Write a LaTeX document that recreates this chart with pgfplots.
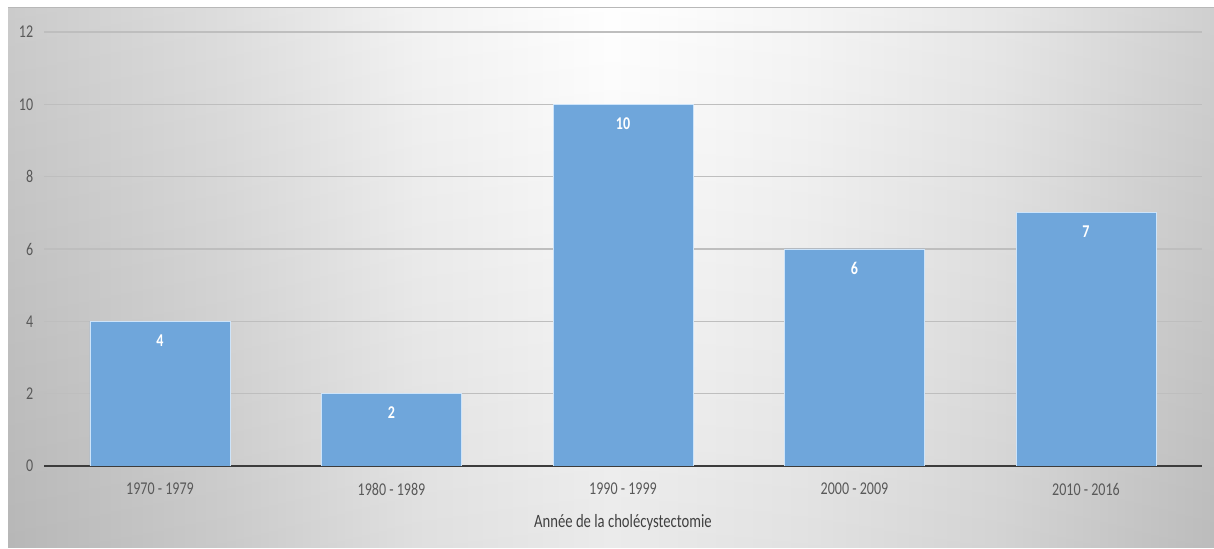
\documentclass[border=0pt]{standalone}
\usepackage{fontspec}
\setmainfont{Carlito}[FakeStretch=0.78]
\usepackage{pgfplots}
\pgfplotsset{compat=1.18}
\definecolor{barblue}{RGB}{111,166,219}
\definecolor{baredge}{RGB}{205,228,250}
\definecolor{ticktext}{RGB}{89,89,89}
\definecolor{titletext}{RGB}{64,64,64}
\definecolor{gridgray}{RGB}{190,190,190}
\pgfdeclarehorizontalshading{panelbg}{100bp}{%
  color(0bp)=(black!22); color(25bp)=(black!22); color(34bp)=(black!14);
  color(42bp)=(black!5); color(50bp)=(white); color(58bp)=(black!4);
  color(66bp)=(black!10); color(75bp)=(black!20); color(100bp)=(black!20)}
\begin{document}
\begin{tikzpicture}
\useasboundingbox (0,0) rectangle (607pt,274.5pt);
\shade[shading=panelbg] (4pt,0.5pt) rectangle (607pt,270.5pt);
\shade[top color=white, bottom color=black, opacity=0.08] (4pt,0.5pt) rectangle (607pt,270.5pt);
\draw[black!28, line width=0.5pt] (4pt,270.5pt) -- (607pt,270.5pt);
\begin{axis}[
    at={(22.125pt,41.5pt)}, anchor=south west,
    scale only axis,
    width=578.75pt, height=217pt,
    xmin=-0.5, xmax=4.5,
    ymin=0, ymax=12,
    ytick={0,2,...,12},
    xtick={0,1,2,3,4},
    xticklabels={1970 - 1979,1980 - 1989,1990 - 1999,2000 - 2009,2010 - 2016},
    axis x line*=bottom,
    axis y line*=left,
    x axis line style={draw={rgb,255:red,60;green,60;blue,60}, line width=1.3pt},
    y axis line style={draw=none},
    major tick length=0pt,
    ymajorgrids,
    major grid style={draw=gridgray, line width=0.6pt},
    /pgf/number format/assume math mode=true,
    tick label style={font=\fontsize{9}{10}\selectfont, text=ticktext},
    xticklabel style={yshift=-5pt},
    yticklabel style={xshift=-2pt},
    xlabel={Année de la cholécystectomie},
    xlabel style={font=\fontsize{9.4}{11}\selectfont, text=titletext, yshift=-2.5pt},
]
\addplot[ybar, bar width=70pt, fill=barblue, draw=baredge, line width=0.4pt,
    nodes near coords,
    every node near coord/.style={anchor=north, yshift=-3pt, text=white,
        font=\fontsize{9}{10}\selectfont\bfseries}]
    coordinates {(0,4) (1,2) (2,10) (3,6) (4,7)};
\end{axis}
\end{tikzpicture}
\end{document}
